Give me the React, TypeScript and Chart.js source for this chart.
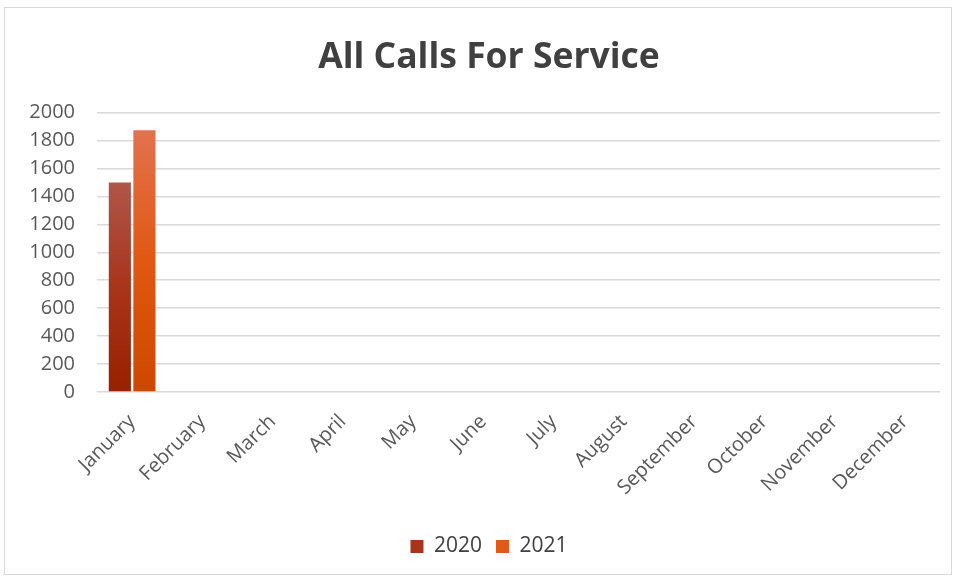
import React, { useEffect, useRef } from "react";
import { Chart, registerables } from "chart.js";
Chart.register(...registerables);

const months = ["January", "February", "March", "April", "May", "June", "July", "August", "September", "October", "November", "December"];
const series2020 = [1500, null, null, null, null, null, null, null, null, null, null, null];
const series2021 = [1873, null, null, null, null, null, null, null, null, null, null, null];
const seriesLabels = ["2020", "2021"];
const yMin = 0;
const yMax = 2000;
const yStep = 200;

const FONT = "'Open Sans', 'Noto Sans', sans-serif";

function makeGrad(stops: [number, string][]) {
  return (ctx: any) => {
    const chart = ctx.chart;
    const area = chart.chartArea;
    if (!area || ctx.type !== "data") return stops[Math.floor(stops.length / 2)][1];
    const v = ctx.parsed?.y;
    if (v == null) return stops[0][1];
    const yTop = chart.scales.y.getPixelForValue(v);
    const yBot = chart.scales.y.getPixelForValue(0);
    if (!isFinite(yTop) || !isFinite(yBot) || yTop === yBot) return stops[0][1];
    const g = chart.ctx.createLinearGradient(0, yTop, 0, yBot);
    stops.forEach(([o, c]) => g.addColorStop(o, c));
    return g;
  };
}

export default function App() {
  const ref = useRef<HTMLCanvasElement>(null);
  useEffect(() => {
    if (!ref.current) return;
    const chart = new Chart(ref.current, {
      type: "bar",
      data: {
        labels: months,
        datasets: [
          {
            label: seriesLabels[0],
            data: series2020,
            backgroundColor: makeGrad([[0, "#b0564a"], [0.5, "#a8341a"], [1, "#992000"]]),
            barPercentage: 0.9,
            categoryPercentage: 0.7,
          },
          {
            label: seriesLabels[1],
            data: series2021,
            backgroundColor: makeGrad([[0, "#e2724e"], [0.5, "#e05812"], [1, "#cc4800"]]),
            barPercentage: 0.9,
            categoryPercentage: 0.7,
          },
        ],
      },
      options: {
        animation: false,
        responsive: false,
        maintainAspectRatio: false,
        layout: { padding: { left: 22, right: 0, top: 0, bottom: 7 } },
        plugins: {
          title: {
            display: true,
            text: "All Calls For Service",
            color: "#404040",
            font: { family: FONT, size: 35.5, weight: "bold" },
            padding: { top: 29, bottom: 33 },
          },
          legend: {
            position: "bottom",
            labels: {
              color: "#404040",
              font: { family: FONT, size: 21 },
              boxWidth: 13,
              boxHeight: 13,
              padding: 14,
              generateLabels: () => [
                { text: seriesLabels[0], fillStyle: "#a8341a", strokeStyle: "#a8341a", lineWidth: 0, datasetIndex: 0, fontColor: "#404040" },
                { text: seriesLabels[1], fillStyle: "#e05a1c", strokeStyle: "#e05a1c", lineWidth: 0, datasetIndex: 1, fontColor: "#404040" },
              ],
            },
          },
          tooltip: { enabled: false },
        },
        scales: {
          x: {
            grid: { display: false },
            border: { display: false },
            ticks: {
              color: "#595959",
              font: { family: FONT, size: 20 },
              maxRotation: 45,
              minRotation: 45,
              padding: 10,
            },
            afterFit: (scale: any) => {
              scale.height = 130;
            },
          },
          y: {
            min: yMin,
            max: yMax,
            grid: { color: "#d9d9d9", lineWidth: 1.5, drawTicks: false },
            border: { display: false },
            ticks: {
              stepSize: yStep,
              color: "#595959",
              font: { family: FONT, size: 20 },
              padding: 22,
              callback: (v: any) => String(v),
            },
            afterFit: (scale: any) => {
              scale.width = 70;
            },
          },
          yRight: {
            position: "right",
            display: true,
            min: yMin,
            max: yMax,
            grid: { display: false, drawTicks: false },
            border: { display: false },
            ticks: { display: false },
            afterFit: (scale: any) => {
              scale.width = 11;
            },
          },
        },
      },
    });
    return () => chart.destroy();
  }, []);
  return (
    <div style={{ position: "absolute", left: 0, top: 0, width: 956, height: 579, background: "#fff" }}>
      <div style={{ position: "absolute", left: 4, top: 7, width: 946, height: 566, border: "1px solid #d9d9d9", background: "#fff" }}>
        <canvas ref={ref} width={946} height={566} style={{ display: "block" }} />
      </div>
    </div>
  );
}
